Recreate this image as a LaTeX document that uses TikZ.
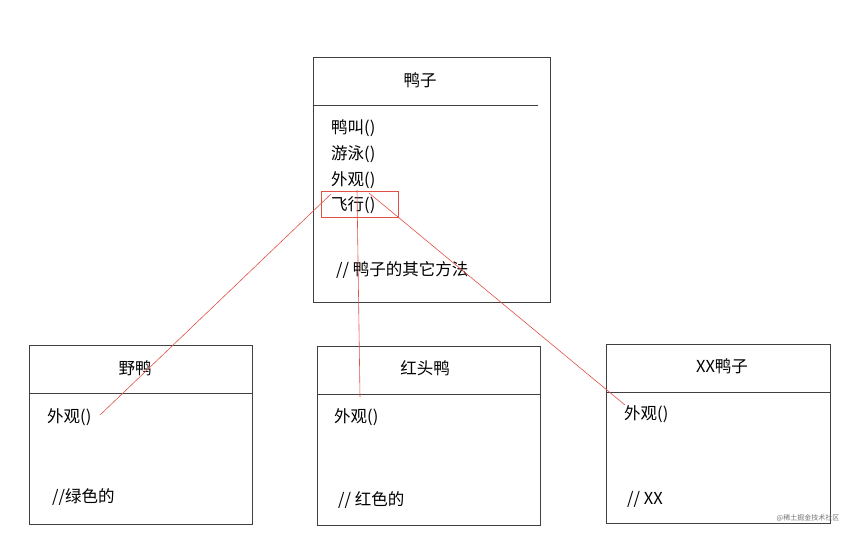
\documentclass[tikz,border=0pt]{standalone}
\usepackage{fontspec}
\setmainfont{Noto Sans CJK SC}
\definecolor{lred}{RGB}{225,80,70}
\begin{document}
\begin{tikzpicture}[x=1pt,y=-1pt,
  box/.style={draw=black!75,line width=0.6pt},
  txt/.style={anchor=west,inner sep=0pt,font=\fontsize{16.5}{18}\selectfont},
  ttl/.style={inner sep=0pt,font=\fontsize{16.5}{18}\selectfont},
  red/.style={draw=lred,line width=0.6pt}]
\useasboundingbox (0,0) rectangle (849,533);
% top box
\draw[box] (313,57) rectangle (550,302);
\draw[box] (313,105) -- (538,105);
\node[ttl] (t) at (420,80) {鸭子};
\node[txt] (m1) at (331,128) {鸭叫()};
\node[txt] (m2) at (331,154) {游泳()};
\node[txt] (m3) at (331,180) {外观()};
\node[txt] (m4) at (331,205) {飞行()};
\node[txt] (m5) at (336,270) {// 鸭子的其它方法};
\draw[red] (321,191) rectangle (398,217);
% boxes
\draw[box] (29,345) rectangle (252,524);
\draw[box] (29,393) -- (252,393);
\node[ttl] (a) at (135,368) {野鸭};
\node[txt] (a1) at (47,417) {外观()};
\node[txt] (a2) at (52,497) {//绿色的};
\draw[box] (317,346) rectangle (540,525);
\draw[box] (317,394) -- (540,394);
\node[ttl] (b) at (425,368) {红头鸭};
\node[txt] (b1) at (334,417) {外观()};
\node[txt] (b2) at (338,500) {// 红色的};
\draw[box] (606,344) rectangle (830,523);
\draw[box] (606,392) -- (830,392);
\node[ttl] (c) at (722,366) {XX鸭子};
\node[txt] (c1) at (624,414) {外观()};
\node[txt] (c2) at (627,499) {// XX};
% red lines
\coordinate (s1) at (331,194);
\coordinate (s2) at (357,190);
\coordinate (s3) at (369,193);
\coordinate (e1) at (100,415);
\coordinate (e2) at (360,397);
\coordinate (e3) at (625,405);
\draw[red] (s1) -- (e1);
\draw[red] (s2) -- (e2);
\draw[red] (s3) -- (e3);
\node[inner sep=0pt,font=\fontsize{7}{8}\selectfont,text=black!55] (w) at (808,518) {@稀土掘金技术社区};
\end{tikzpicture}
\end{document}
